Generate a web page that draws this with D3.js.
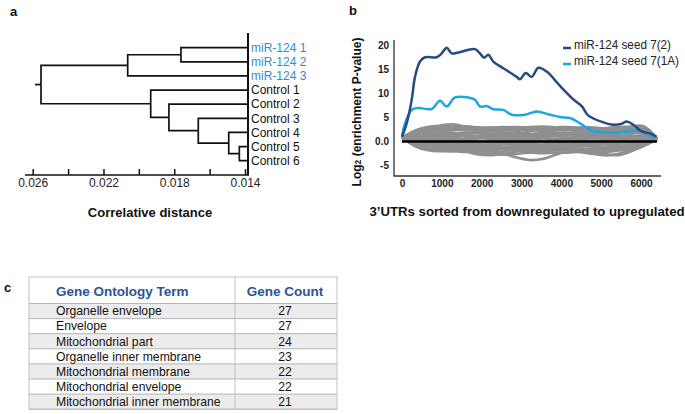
<!DOCTYPE html>
<html><head><meta charset="utf-8">
<script src="https://cdn.jsdelivr.net/npm/d3@7"></script>
<style>
html,body{margin:0;padding:0;background:#fff;}
text{font-family:"Liberation Sans",Arial,sans-serif;}
</style></head>
<body><svg id="fig" width="685" height="414"></svg>
<script>
// ---------------- DATA ----------------
// Panel a: dendrogram
const leafLabels = ["miR-124 1","miR-124 2","miR-124 3","Control 1","Control 2","Control 3","Control 4","Control 5","Control 6"];
const leafGroup = ["miR","miR","miR","ctrl","ctrl","ctrl","ctrl","ctrl","ctrl"];
// linkage (scipy style: indices 0-8 leaves, 9+ merged clusters)
const linkLeft   = [0, 9, 7, 6, 5, 4, 3, 10];
const linkRight  = [1, 2, 8, 11, 12, 13, 14, 15];
const linkHeight = [0.01762, 0.02063, 0.01432, 0.01492, 0.01664, 0.0183, 0.01933, 0.02553];
const leafHeight = 0.01383;
const distTicks = [0.026, 0.024, 0.022, 0.020, 0.018, 0.016, 0.014];
const distTickLabels = ["0.026", "", "0.022", "", "0.018", "", "0.014"];

// Panel b: enrichment curves
const seriesNames = ["miR-124 seed 7(2)", "miR-124 seed 7(1A)"];
const seed72X = [0,117,243,326,452,577,870,996,1122,1248,1414,1707,1833,1958,2059,2167,2293,2544,2880,2962,3106,3256,3423,3632,3967,4301,4512,4679,5056,5307,5516,5641,5808,6018,6227,6394];
const seed72Y = [1.0,3.8,8.7,13.5,16.7,17.6,17.6,18.4,19.6,18.4,18.6,19.2,19.3,18.4,17.5,18.1,16.7,15.3,13.5,13.0,14.3,13.5,15.4,14.6,11.6,8.8,7.4,5.4,4.0,3.5,3.7,4.2,3.5,2.1,1.7,1.0];
const seed71AX = [0,75,243,410,745,954,1122,1331,1665,1833,1958,2126,2293,2544,2754,3088,3382,3673,3967,4218,4469,4763,5014,5390,5724,6018,6185,6352];
const seed71AY = [1.0,3.8,6.6,7.0,6.8,8.5,7.3,9.2,9.2,8.7,7.3,7.4,6.75,6.6,5.6,5.6,6.25,5.7,5.1,4.9,3.8,2.3,1.9,1.9,2.2,2.2,1.4,0.9];
// background (gray) curves, sampled at grayX
const grayX = [0,320,640,960,1280,1600,1920,2240,2560,2880,3200,3520,3840,4160,4480,4800,5120,5440,5760,6080,6400];
const gray01 = [0.8,2.4,3.1,3.3,3.8,3.0,2.7,2.9,3.1,2.8,3.0,3.2,2.9,3.1,2.8,2.6,2.4,2.7,3.0,3.8,0.6];
const gray02 = [0.8,2.0,2.6,2.9,2.7,2.4,2.8,3.0,2.6,2.9,2.7,2.5,3.0,2.8,2.5,2.2,2.5,2.3,2.8,3.3,0.5];
const gray03 = [0.8,1.6,2.2,2.0,2.4,2.6,2.2,2.0,2.4,2.2,2.5,2.1,2.3,2.6,2.2,1.9,2.1,2.4,2.1,2.6,0.5];
const gray04 = [0.8,1.3,1.8,1.5,1.9,1.6,1.8,1.5,1.9,1.7,1.5,1.8,1.6,1.9,1.7,1.4,1.7,1.5,1.9,1.8,0.5];
const gray05 = [0.8,1.0,1.3,1.1,1.4,1.0,1.2,1.5,1.1,1.3,1.0,1.4,1.1,1.3,1.5,1.2,1.0,1.3,1.1,1.4,0.5];
const gray06 = [0.8,0.7,0.9,0.6,0.8,0.5,0.9,0.7,0.6,0.9,0.6,0.8,0.5,0.7,0.9,0.6,0.8,0.6,0.9,0.8,0.5];
const gray07 = [0.8,0.4,0.3,0.5,0.2,0.4,0.1,0.3,0.5,0.2,0.4,0.1,0.3,0.2,0.4,0.1,0.3,0.2,0.4,0.5,0.5];
const gray08 = [0.8,0.1,-0.2,0.0,-0.3,-0.1,-0.3,0.0,-0.2,-0.4,-0.1,-0.3,0.0,-0.2,-0.4,-0.1,-0.3,0.0,-0.2,0.1,0.5];
const gray09 = [0.8,-0.2,-0.6,-0.4,-0.7,-0.5,-0.8,-0.6,-0.4,-0.7,-0.5,-0.8,-0.6,-0.5,-0.7,-0.4,-0.6,-0.8,-0.5,-0.2,0.5];
const gray10 = [0.8,-0.4,-1.0,-1.2,-0.9,-1.1,-1.3,-1.0,-1.2,-0.9,-1.1,-1.3,-1.0,-1.2,-0.9,-1.1,-1.3,-1.0,-0.8,-0.4,0.5];
const gray11 = [0.8,-0.7,-1.5,-1.7,-1.4,-1.6,-1.5,-1.8,-1.6,-1.4,-1.7,-1.5,-1.3,-1.6,-1.8,-1.5,-1.7,-1.4,-1.2,-0.6,0.5];
const gray12 = [0.8,-0.9,-1.9,-2.1,-1.8,-2.0,-2.8,-2.9,-2.6,-2.0,-1.8,-2.0,-1.7,-1.9,-2.1,-1.8,-2.0,-1.7,-1.5,-0.8,0.5];
const gray13 = [0.8,-0.6,-1.4,-1.6,-1.7,-1.5,-1.8,-2.0,-2.5,-3.4,-4.0,-3.8,-2.8,-2.0,-1.8,-1.6,-1.9,-1.5,-1.3,-0.7,0.5];
const gray14 = [0.8,-0.5,-1.2,-1.4,-1.3,-1.5,-1.3,-1.6,-1.4,-1.7,-1.5,-1.8,-1.6,-1.9,-2.2,-2.6,-3.0,-2.7,-1.6,-0.7,0.5];
const gray15 = [0.8,1.8,2.8,3.0,3.2,2.8,2.5,2.7,2.9,3.1,2.8,2.6,2.8,3.0,2.7,2.5,2.8,3.0,3.2,3.0,0.6];
const gray16 = [0.8,0.5,1.6,0.9,2.0,1.2,0.6,1.8,1.0,2.1,1.4,0.7,1.6,1.1,2.0,1.0,1.5,0.8,1.7,2.2,0.5];
const gray17 = [0.8,-0.3,0.5,-0.8,0.2,-1.0,-0.3,0.4,-0.9,0.1,-0.6,0.3,-1.0,-0.2,0.4,-0.8,0.0,-0.5,0.3,0.2,0.5];
const gray18 = [0.8,-0.8,-1.7,-1.0,-2.0,-1.3,-0.8,-1.9,-1.2,-0.7,-1.6,-2.0,-1.1,-0.8,-1.5,-1.9,-1.2,-2.0,-1.4,-0.9,0.5];
const gray19 = [0.8,2.2,2.9,2.5,3.0,3.3,2.9,2.6,3.0,2.7,2.4,2.8,3.1,2.7,3.0,2.8,2.6,2.9,2.6,3.5,0.6];
const gray20 = [0.8,0.2,1.1,1.9,0.7,1.5,2.2,0.9,1.6,0.4,1.3,2.0,0.8,1.7,0.5,1.4,2.1,1.0,0.7,1.2,0.5];
const gray21 = [0.8,1.5,2.5,2.7,2.2,2.9,3.1,2.4,2.2,2.6,2.9,3.0,2.4,2.2,2.9,3.0,2.7,2.0,2.4,2.9,0.5];
const gray22 = [0.8,-1.0,-1.6,-1.9,-2.2,-1.7,-2.3,-2.5,-2.1,-1.6,-1.9,-2.2,-2.0,-1.5,-1.7,-2.0,-2.3,-1.9,-1.4,-0.9,0.5];
const gray23 = [0.8,0.9,0.2,1.4,0.4,-0.2,0.9,1.2,0.1,0.6,1.3,-0.1,0.4,1.0,0.2,1.2,0.4,-0.3,0.8,0.9,0.5];
const gray24 = [0.8,-0.5,-0.2,-1.3,-0.6,-1.6,-0.9,-0.3,-1.4,-1.1,-0.4,-1.2,-1.5,-0.7,-1.2,-0.5,-1.4,-0.9,-0.6,-0.3,0.5];
const gray25 = [0.8,1.2,2.0,2.4,1.4,2.2,1.5,2.5,1.8,1.3,2.2,2.6,1.9,1.5,2.4,2.7,1.8,2.5,2.3,1.7,0.5];
const gray26 = [0.8,-1.1,-2.0,-1.5,-1.9,-2.3,-2.0,-2.4,-2.9,-2.6,-2.2,-2.5,-2.3,-2.4,-2.0,-2.2,-2.6,-3.1,-2.0,-1.0,0.5];
const grayAll = [gray01,gray02,gray03,gray04,gray05,gray06,gray07,gray08,gray09,gray10,gray11,gray12,gray13,
                 gray14,gray15,gray16,gray17,gray18,gray19,gray20,gray21,gray22,gray23,gray24,gray25,gray26];
const bXTicks = [0,1000,2000,3000,4000,5000,6000];
const bYTicks = [20,15,10,5,0,-5];
const bYTickLabels = ["20","15","10","5","0.0","-5"];
const zeroLineX = [0, 6400];

// Panel c: table
const tableHeader = ["Gene Ontology Term", "Gene Count"];
const goTerms = ["Organelle envelope","Envelope","Mitochondrial part","Organelle inner membrane","Mitochondrial membrane","Mitochondrial envelope","Mitochondrial inner membrane"];
const geneCounts = [27, 27, 24, 23, 22, 22, 21];

// ---------------- DRAW ----------------
const svg = d3.select("#fig");
svg.append("rect").attr("width",685).attr("height",414).attr("fill","#fff");

// panel letters
[["a",10,16],["b",349,15],["c",4,292]].forEach(([t,x,y])=>{
  svg.append("text").attr("x",x).attr("y",y).text(t)
    .attr("font-size",13).attr("font-weight","bold").attr("fill","#111");
});

// ===== Panel a =====
const pa = svg.append("g");
const xa = d3.scaleLinear().domain([0.026, 0.014]).range([32.7, 245]);
const ya = d3.scalePoint().domain(leafLabels).range([47.7, 160.7]);

const nodes = leafLabels.map((name,i)=>({name, height:leafHeight, group:leafGroup[i]}));
linkLeft.forEach((l,i)=>{
  nodes.push({name:"n"+i, height:linkHeight[i], children:[nodes[l], nodes[linkRight[i]]]});
});
const root = d3.hierarchy(nodes[nodes.length-1]);
root.eachAfter(n=>{
  n.px = xa(n.data.height);
  if (n.children) n.py = (n.children[0].py + n.children[n.children.length-1].py)/2;
  else n.py = ya(n.data.name);
});
pa.selectAll("path.link").data(root.links()).join("path")
  .attr("d", l=>`M${l.source.px},${l.source.py}V${l.target.py}H${l.target.px}`)
  .attr("fill","none").attr("stroke","#111").attr("stroke-width",1.7);
pa.append("path").attr("d",`M${root.px},${root.py}H${root.px-6}`)
  .attr("stroke","#111").attr("stroke-width",1.7);
pa.append("line").attr("x1",xa(leafHeight)).attr("x2",xa(leafHeight)).attr("y1",33).attr("y2",175)
  .attr("stroke","#111").attr("stroke-width",2);
pa.selectAll("text.leaf").data(root.leaves()).join("text")
  .attr("x", d=>d.px+3).attr("y", d=>d.py).attr("dy","0.35em")
  .attr("font-size",12)
  .attr("fill", d=>d.data.group==="miR" ? "#2f8dcf" : "#111")
  .text(d=>d.data.name);
const axA = d3.axisBottom(xa).tickValues(distTicks).tickSize(-6).tickSizeOuter(0).tickPadding(3)
  .tickFormat((d,i)=>distTickLabels[i]);
const gA = pa.append("g").attr("transform","translate(0,175)").call(axA);
gA.select(".domain").remove();
gA.selectAll(".tick line").attr("stroke","#111").attr("stroke-width",1.5);
gA.selectAll(".tick text").attr("font-size",12).attr("fill","#222").attr("font-family",null);
pa.append("line").attr("x1",25).attr("x2",249).attr("y1",175).attr("y2",175)
  .attr("stroke","#111").attr("stroke-width",1.5);
pa.append("text").attr("x",150).attr("y",217).attr("text-anchor","middle")
  .attr("font-size",13).attr("font-weight","bold").attr("fill","#111").text("Correlative distance");

// ===== Panel b =====
const pb = svg.append("g");
const xb = d3.scaleLinear().domain([0, 6000]).range([402, 641]);
const yb = d3.scaleLinear().domain([-7.2, 21.2]).range([176, 40]);
const grayLine = d3.line().x((d,i)=>xb(grayX[i])).y(d=>yb(d)).curve(d3.curveBasis);
pb.selectAll("path.gray").data(grayAll).join("path")
  .attr("d", grayLine).attr("fill","none").attr("stroke","#8f8f8f").attr("stroke-width",2.6);
pb.append("line").attr("x1",xb(zeroLineX[0])).attr("x2",xb(zeroLineX[1]))
  .attr("y1",yb(0)).attr("y2",yb(0)).attr("stroke","#000").attr("stroke-width",2.5);
const lineXY = d3.line().x(d=>xb(d[0])).y(d=>yb(d[1])).curve(d3.curveCatmullRom.alpha(0.5));
pb.append("path").datum(d3.zip(seed71AX, seed71AY)).attr("d",lineXY)
  .attr("fill","none").attr("stroke","#1ea6e0").attr("stroke-width",2.5);
pb.append("path").datum(d3.zip(seed72X, seed72Y)).attr("d",lineXY)
  .attr("fill","none").attr("stroke","#274b80").attr("stroke-width",2.5);
const gX = pb.append("g").attr("transform","translate(0,176)")
  .call(d3.axisBottom(xb).tickValues(bXTicks).tickSize(0).tickPadding(4).tickFormat(d3.format("d")));
gX.select(".domain").remove();
gX.selectAll("text").attr("font-size",10).attr("font-weight","bold").attr("fill","#222").attr("font-family",null);
const gY = pb.append("g").attr("transform","translate(394,0)")
  .call(d3.axisLeft(yb).tickValues(bYTicks).tickSize(0).tickPadding(5).tickFormat((d,i)=>bYTickLabels[i]));
gY.select(".domain").remove();
gY.selectAll("text").attr("font-size",10).attr("font-weight","bold").attr("fill","#222").attr("font-family",null);
pb.append("path").attr("d","M394,40V176H661").attr("fill","none").attr("stroke","#333").attr("stroke-width",1.3);
const yt = pb.append("text").attr("transform","translate(361,112) rotate(-90)").attr("text-anchor","middle")
  .attr("font-size",12).attr("font-weight","bold").attr("fill","#111");
yt.append("tspan").text("Log");
yt.append("tspan").attr("font-size",8.5).text("2");
yt.append("tspan").text(" (enrichment P-value)");
pb.append("text").attr("x",527).attr("y",216).attr("text-anchor","middle")
  .attr("font-size",13.2).attr("font-weight","bold").attr("fill","#111")
  .text("3\u2019UTRs sorted from downregulated to upregulated");
const legColors = ["#274b80","#1ea6e0"];
const legWidths = [97, 105];
seriesNames.forEach((s,i)=>{
  const yy = 45 + i*16;
  pb.append("line").attr("x1",563).attr("x2",571).attr("y1",yy+3).attr("y2",yy+3)
    .attr("stroke",legColors[i]).attr("stroke-width",2.5);
  pb.append("text").attr("x",574).attr("y",yy).attr("dy","0.35em")
    .attr("font-size",12.5).attr("fill","#222")
    .attr("textLength",legWidths[i]).attr("lengthAdjust","spacingAndGlyphs").text(s);
});

// ===== Panel c: table =====
const pc = svg.append("g");
const tX0 = 29, tX1 = 337, tXc = 235, tY0 = 277, tHead = 303.5, rowH = 15.1;
const rowY = d3.scaleLinear().domain([0, goTerms.length]).range([tHead, tHead + rowH*goTerms.length]);
pc.selectAll("rect.row").data(goTerms).join("rect")
  .attr("x",tX0).attr("width",tX1-tX0).attr("y",(d,i)=>rowY(i)).attr("height",rowH)
  .attr("fill",(d,i)=> i%2===0 ? "#ececec" : "#ffffff");
pc.selectAll("line.hr").data(d3.range(goTerms.length+1)).join("line")
  .attr("x1",tX0).attr("x2",tX1).attr("y1",i=>rowY(i)).attr("y2",i=>rowY(i))
  .attr("stroke","#b5b5b5").attr("stroke-width",1);
pc.append("rect").attr("x",tX0).attr("y",tY0).attr("width",tX1-tX0).attr("height",rowY(goTerms.length)-tY0)
  .attr("fill","none").attr("stroke","#c2c2c2").attr("stroke-width",1);
pc.append("line").attr("x1",tXc).attr("x2",tXc).attr("y1",tY0).attr("y2",rowY(goTerms.length))
  .attr("stroke","#c2c2c2").attr("stroke-width",1);
pc.append("text").attr("x",56).attr("y",(tY0+tHead)/2+1).attr("dy","0.35em")
  .attr("font-size",13.5).attr("font-weight","bold").attr("fill","#2d5496").text(tableHeader[0]);
pc.append("text").attr("x",285).attr("y",(tY0+tHead)/2+1).attr("dy","0.35em").attr("text-anchor","middle")
  .attr("font-size",13.5).attr("font-weight","bold").attr("fill","#2d5496").text(tableHeader[1]);
pc.selectAll("text.term").data(goTerms).join("text")
  .attr("x",56).attr("y",(d,i)=>rowY(i)+rowH/2).attr("dy","0.35em")
  .attr("font-size",12.2).attr("fill","#111").text(d=>d);
pc.selectAll("text.count").data(geneCounts).join("text")
  .attr("x",285).attr("y",(d,i)=>rowY(i)+rowH/2).attr("dy","0.35em").attr("text-anchor","middle")
  .attr("font-size",12.2).attr("fill","#111").text(d=>d);
</script></body></html>
